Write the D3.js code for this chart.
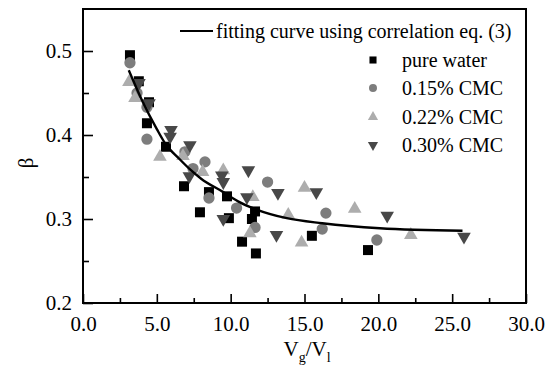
<!DOCTYPE html>
<html><head><meta charset="utf-8">
<script src="https://cdn.jsdelivr.net/npm/d3@7"></script>
<style>body{margin:0;background:#fff}svg{display:block}</style>
</head><body><svg id="c" width="558" height="365"></svg>
<script>
const xTicks = [0, 5, 10, 15, 20, 25, 30];
const yTicks = [0.2, 0.3, 0.4, 0.5];
const seriesNames = ["pure water", "0.15% CMC", "0.22% CMC", "0.30% CMC"];
const curveLabel = "fitting curve using correlation eq. (3)";

const pureWater = [[3.18,0.495],[3.78,0.464],[4.47,0.439],[4.33,0.414],[5.62,0.386],[6.84,0.339],[8.53,0.332],[9.75,0.327],[7.92,0.308],[9.88,0.301],[11.65,0.309],[11.44,0.300],[10.77,0.273],[11.71,0.259],[15.5,0.280],[19.3,0.263]];
const cmc015 = [[3.18,0.486],[3.66,0.450],[4.33,0.433],[4.33,0.395],[6.9,0.380],[8.26,0.368],[7.45,0.360],[8.53,0.325],[10.4,0.313],[11.65,0.290],[12.5,0.344],[16.45,0.307],[16.2,0.288],[19.9,0.275]];
const cmc022 = [[3.11,0.463],[3.52,0.444],[5.21,0.374],[6.77,0.375],[8.1,0.356],[9.5,0.358],[11.5,0.326],[11.3,0.283],[13.9,0.305],[15.0,0.337],[14.8,0.272],[18.4,0.312],[22.2,0.281]];
const cmc030 = [[3.79,0.462],[4.47,0.438],[5.96,0.406],[5.9,0.398],[7.24,0.388],[7.2,0.351],[9.4,0.352],[9.5,0.344],[11.2,0.358],[13.2,0.331],[11.1,0.326],[9.5,0.300],[13.1,0.281],[15.8,0.332],[20.6,0.304],[25.8,0.279]];
const fitCurve = [[3.1,0.477],[4.0,0.441],[5.0,0.407],[5.6,0.389],[6.5,0.372],[7.25,0.359],[8.0,0.348],[9.5,0.332],[10.5,0.321],[11.8,0.311],[13.8,0.301],[16.2,0.295],[20.1,0.289],[25.7,0.286]];

const svg = d3.select("#c");
const font = "'Liberation Serif','Times New Roman',serif";
const L = 83, R = 526, T = 9, B = 303;
const x = d3.scaleLinear().domain([0, 30]).range([L, R]);
const y = d3.scaleLinear().domain([0.2, 0.55]).range([B, T]);

// frame
svg.append("rect").attr("x", L).attr("y", T).attr("width", R - L).attr("height", B - T)
  .attr("fill", "none").attr("stroke", "#000").attr("stroke-width", 2);

// x axis
const xa = svg.append("g").attr("transform", `translate(0,${B})`)
  .call(d3.axisBottom(x).tickValues(d3.range(0, 30.01, 2.5)).tickSize(-9).tickPadding(13)
    .tickFormat(d => xTicks.includes(d) ? d3.format(".1f")(d) : ""));
xa.select(".domain").remove();
xa.selectAll(".tick line").attr("stroke-width", 1.6)
  .attr("y2", d => xTicks.includes(d) ? -9 : -5);
xa.selectAll("text").attr("font-family", font).attr("font-size", 21).attr("fill", "#000");

// y axis
const ya = svg.append("g").attr("transform", `translate(${L},0)`)
  .call(d3.axisLeft(y).tickValues([0.2,0.25,0.3,0.35,0.4,0.45,0.5]).tickSize(-10).tickPadding(11)
    .tickFormat(d => yTicks.some(t => Math.abs(t - d) < 1e-9) ? d3.format(".1f")(d) : ""));
ya.select(".domain").remove();
ya.selectAll(".tick line").attr("stroke-width", 1.6)
  .attr("x2", d => yTicks.some(t => Math.abs(t - d) < 1e-9) ? 10 : 6);
ya.selectAll("text").attr("font-family", font).attr("font-size", 21).attr("fill", "#000");

// axis titles
svg.append("text").attr("transform", "translate(33,163) rotate(-90)").attr("text-anchor", "middle")
  .attr("font-family", font).attr("font-size", 21).text("β");
const xt = svg.append("text").attr("x", 307).attr("y", 356).attr("text-anchor", "middle")
  .attr("font-family", font).attr("font-size", 21);
xt.append("tspan").text("V");
xt.append("tspan").attr("font-size", 14).attr("dy", 6).text("g");
xt.append("tspan").attr("dy", -6).text("/V");
xt.append("tspan").attr("font-size", 14).attr("dy", 6).text("l");

// symbols
const colors = ["#000000", "#7d7d7d", "#adadad", "#484848"];
const sym = [
  d3.symbol().type(d3.symbolSquare).size(100),
  d3.symbol().type(d3.symbolCircle).size(100),
  d3.symbol().type(d3.symbolTriangle).size(80),
  d3.symbol().type(d3.symbolTriangle).size(80)
];
const rot = [0, 0, 0, 180];
const data = [pureWater, cmc015, cmc022, cmc030];

data.forEach((ser, i) => {
  svg.append("g").selectAll("path").data(ser).join("path")
    .attr("d", sym[i]())
    .attr("transform", d => `translate(${x(d[0])},${y(d[1])}) rotate(${rot[i]})`)
    .attr("fill", colors[i]);
});

// fit curve
svg.append("path").datum(fitCurve)
  .attr("d", d3.line().x(d => x(d[0])).y(d => y(d[1])).curve(d3.curveMonotoneX))
  .attr("fill", "none").attr("stroke", "#000").attr("stroke-width", 2.4);

// legend
svg.append("line").attr("x1", 180).attr("x2", 213).attr("y1", 31).attr("y2", 31)
  .attr("stroke", "#000").attr("stroke-width", 2.2);
svg.append("text").attr("x", 216).attr("y", 38).attr("font-family", font).attr("font-size", 20)
  .text(curveLabel);
const lsym = [
  d3.symbol().type(d3.symbolSquare).size(50),
  d3.symbol().type(d3.symbolCircle).size(50),
  d3.symbol().type(d3.symbolTriangle).size(45),
  d3.symbol().type(d3.symbolTriangle).size(45)
];
const ly = [60, 88, 117, 145];
seriesNames.forEach((n, i) => {
  svg.append("path").attr("d", lsym[i]())
    .attr("transform", `translate(373,${ly[i]}) rotate(${rot[i]})`).attr("fill", colors[i]);
  svg.append("text").attr("x", 402).attr("y", ly[i] + 7).attr("font-family", font)
    .attr("font-size", 20).text(n);
});
</script></body></html>
